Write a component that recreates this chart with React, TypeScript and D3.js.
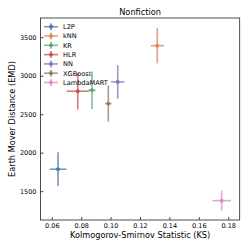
import React from 'react';
import * as d3 from 'd3';

// values
const models = ['L2P', 'kNN', 'KR', 'HLR', 'NN', 'XGBoost', 'LambdaMART'];
const ksMean = [0.0639, 0.1314, 0.087, 0.0773, 0.1045, 0.0981, 0.1752];
const ksErr = [0.0057, 0.0045, 0.0025, 0.0075, 0.0045, 0.0022, 0.0063];
const emdMean = [1792, 3396, 2818, 2805, 2926, 2644, 1383];
const emdErr = [219, 230, 243, 238, 217, 234, 130];
const colors = ['#4c72b0', '#dd8452', '#55a868', '#c44e52', '#8172b3', '#937860', '#da8bc3'];
const xTicks = [0.06, 0.08, 0.1, 0.12, 0.14, 0.16, 0.18];
const yTicks = [1500, 2000, 2500, 3000, 3500];

const font = 'DejaVu Sans, sans-serif';

const App = () => {
  const W = 249;
  const H = 249;
  const margin = { top: 18, right: 9.3, bottom: 29, left: 40.5 };
  const x = d3.scaleLinear().domain([0.05197, 0.18748]).range([margin.left, W - margin.right]);
  const y = d3.scaleLinear().domain([1132, 3756]).range([H - margin.bottom, margin.top]);
  const [x0, x1] = x.range();
  const [y0, y1] = y.range();

  return (
    <svg width={W} height={H} style={{ position: 'absolute', left: 0, top: 0 }} fontFamily={font}>
      <rect width={W} height={H} fill="#fff" />

      {/* title */}
      <text x={(x0 + x1) / 2} y={15} textAnchor="middle" fontSize={8.2}>Nonfiction</text>

      {/* error bars */}
      {models.map((m, i) => (
        <g key={m}>
          <line x1={x(ksMean[i] - ksErr[i])} x2={x(ksMean[i] + ksErr[i])} y1={y(emdMean[i])} y2={y(emdMean[i])}
            stroke={colors[i]} strokeWidth={1.6} opacity={0.75} />
          <line x1={x(ksMean[i])} x2={x(ksMean[i])} y1={y(emdMean[i] - emdErr[i])} y2={y(emdMean[i] + emdErr[i])}
            stroke={colors[i]} strokeWidth={1.6} opacity={0.75} />
          <circle cx={x(ksMean[i])} cy={y(emdMean[i])} r={1.9} fill={colors[i]} />
        </g>
      ))}

      {/* legend, no frame */}
      {models.map((m, i) => {
        const ly = 26.7 + i * 9.3;
        return (
          <g key={'lg' + m}>
            <line x1={44} x2={58} y1={ly} y2={ly} stroke={colors[i]} strokeWidth={1.6} opacity={0.75} />
            <line x1={51} x2={51} y1={ly - 3.5} y2={ly + 3.5} stroke={colors[i]} strokeWidth={1.6} opacity={0.75} />
            <circle cx={51} cy={ly} r={1.9} fill={colors[i]} />
            <text x={63} y={ly + 2.4} fontSize={6.6}>{m}</text>
          </g>
        );
      })}

      {/* axes frame */}
      <rect x={x0} y={y1} width={x1 - x0} height={y0 - y1} fill="none" stroke="#222" strokeWidth={0.8} />

      {/* x ticks */}
      {xTicks.map(t => (
        <g key={'x' + t}>
          <line x1={x(t)} x2={x(t)} y1={y0} y2={y0 - 3} stroke="#222" strokeWidth={0.8} />
          <text x={x(t)} y={y0 + 8} textAnchor="middle" fontSize={6.5}>{d3.format('.2f')(t)}</text>
        </g>
      ))}

      {/* y ticks */}
      {yTicks.map(t => (
        <g key={'y' + t}>
          <line x1={x0} x2={x0 + 3} y1={y(t)} y2={y(t)} stroke="#222" strokeWidth={0.8} />
          <text x={x0 - 4} y={y(t) + 2.3} textAnchor="end" fontSize={6.5}>{t}</text>
        </g>
      ))}

      {/* axis labels */}
      <text x={(x0 + x1) / 2} y={237.5} textAnchor="middle" fontSize={8.2}>Kolmogorov-Smirnov Statistic (KS)</text>
      <text transform={`translate(15,${(y0 + y1) / 2}) rotate(-90)`} textAnchor="middle" fontSize={8.2}>
        Earth Mover Distance (EMD)
      </text>
    </svg>
  );
};

export default App;
